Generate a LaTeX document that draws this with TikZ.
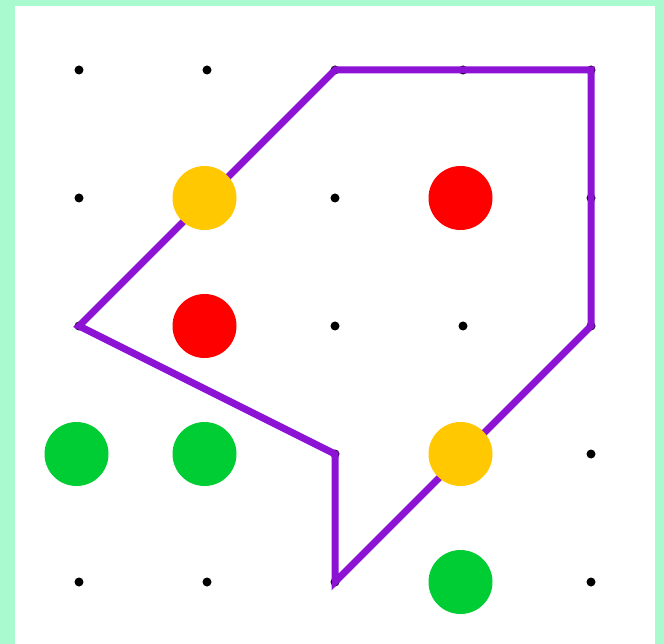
\documentclass[tikz,border=0pt]{standalone}
\usepackage{tikz}
\usetikzlibrary{positioning}
\definecolor{mint}{HTML}{AAFAD0}
\definecolor{violet}{HTML}{8C12D4}
\definecolor{gold}{HTML}{FFC800}
\definecolor{hot}{HTML}{FF0000}
\definecolor{leaf}{HTML}{00CC33}
\tikzset{gdot/.style={circle,fill=black,inner sep=0pt,minimum size=9pt},disc/.style={circle,inner sep=0pt,minimum size=64pt,xshift=-2.5pt},fence/.style={violet,line width=7pt}}
\begin{document}
\begin{tikzpicture}[x=1pt,y=-1pt]
\fill[mint] (0,0) rectangle (664,644);\fill[white] (15,6) rectangle (655,644);
\useasboundingbox (0,0) rectangle (664,644);
\foreach \i in {0,...,4}{\foreach \j in {0,...,4}{\node[gdot] (p-\i-\j) at (79+128*\i,70+128*\j) {};}}
\draw[fence] (p-2-0.center)--(p-4-0.center)--(p-4-2.center)--(p-2-4.center)--(p-2-3.center)--(p-0-2.center)--cycle;
\node[disc,fill=gold] (y1) at (p-1-1) {};\node[disc,fill=gold] (y2) at (p-3-3) {};
\node[disc,fill=hot] (r1) at (p-3-1) {};\node[disc,fill=hot] (r2) at (p-1-2) {};
\node[disc,fill=leaf] (g1) at (p-0-3) {};\node[disc,fill=leaf] (g2) at (p-1-3) {};\node[disc,fill=leaf] (g3) at (p-3-4) {};
\end{tikzpicture}
\end{document}
